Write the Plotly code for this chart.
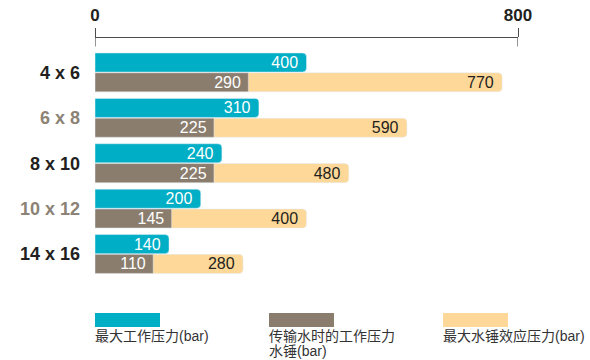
import plotly.graph_objects as go

# Pipe sizes and pressures (bar)
sizes = ["4 x 6", "6 x 8", "8 x 10", "10 x 12", "14 x 16"]
max_working = [400, 310, 240, 200, 140]
transfer_working = [290, 225, 225, 145, 110]
max_water_hammer = [770, 590, 480, 400, 280]

series_names = ["最大工作压力(bar)", "传输水时的工作压力<br>水锤(bar)", "最大水锤效应压力(bar)"]
colors = ["#00aec6", "#8a7d6e", "#fdd898"]
label_gray = "#8c8275"
dark = "#231f20"
FONT = "Liberation Sans, Arial, Noto Sans CJK SC, sans-serif"

idx = list(range(len(sizes)))
top_row = [i - 0.218 for i in idx]
bottom_row = [i + 0.218 for i in idx]

fig = go.Figure()

common = dict(orientation="h", width=0.42, textposition="inside",
              insidetextanchor="end", constraintext="none",
              texttemplate="%{x}\u00a0",
              textangle=0, hoverinfo="skip", showlegend=False)

fig.add_trace(go.Bar(x=max_water_hammer, y=bottom_row, marker_color=colors[2],
                     insidetextfont=dict(color=dark, size=16, family=FONT),
                     name=series_names[2], **common))
fig.add_trace(go.Bar(x=transfer_working, y=bottom_row, marker_color=colors[1],
                     insidetextfont=dict(color="white", size=16, family=FONT),
                     name=series_names[1], **common))
fig.add_trace(go.Bar(x=max_working, y=top_row, marker_color=colors[0],
                     insidetextfont=dict(color="white", size=16, family=FONT),
                     name=series_names[0], **common))

ticktext = []
for i, s in enumerate(sizes):
    c = dark if i % 2 == 0 else label_gray
    ticktext.append(f"<span style='color:{c}'>{s}</span>")

fig.update_layout(
    width=590, height=360,
    margin=dict(l=95, r=72, t=38, b=70),
    paper_bgcolor="white", plot_bgcolor="white",
    barmode="overlay", barcornerradius=4,
    uniformtext=dict(minsize=16, mode="show"),
    font=dict(family=FONT, color=dark),
    xaxis=dict(range=[0, 800], side="top", tickvals=[0, 800], automargin=False,
               showgrid=False, zeroline=False, showline=True,
               linecolor="#4d4d4d", linewidth=1.2,
               ticks="outside", ticklen=9, tickwidth=1.2, tickcolor="#4d4d4d",
               tickfont=dict(size=17, weight="bold", color=dark, family=FONT)),
    yaxis=dict(range=[4.793, -0.758], tickvals=idx, ticktext=ticktext,
               automargin=False,
               showgrid=False, zeroline=False, showline=False, ticks="",
               ticklabelstandoff=14,
               tickfont=dict(size=18, weight="bold", color=dark, family=FONT)),
)

# downward halves of the two axis ticks
for xv in [0, 800]:
    fig.add_shape(type="line", xref="x", yref="paper", x0=xv, x1=xv,
                  y0=1, y1=1 - 8.5 / 252, line=dict(color="#4d4d4d", width=1.2))

# custom legend: wide swatch with label underneath
def px_x(p):
    return (p - 95) / 423

def px_y(p):
    return (290 - p) / 252

legend_x = [95, 269, 443]
for lx, name, col in zip(legend_x, series_names, colors):
    fig.add_shape(type="rect", xref="paper", yref="paper",
                  x0=px_x(lx), x1=px_x(lx + 65), y0=px_y(327), y1=px_y(313),
                  fillcolor=col, line=dict(width=0), layer="above")
    for k, line in enumerate(name.split("<br>")):
        fig.add_annotation(xref="paper", yref="paper", x=px_x(lx - 2),
                           y=px_y(336 + 14.5 * k),
                           xanchor="left", yanchor="middle", align="left",
                           text=line, showarrow=False,
                           font=dict(size=14, color="#333333", family=FONT))

fig.write_html("out.html")
